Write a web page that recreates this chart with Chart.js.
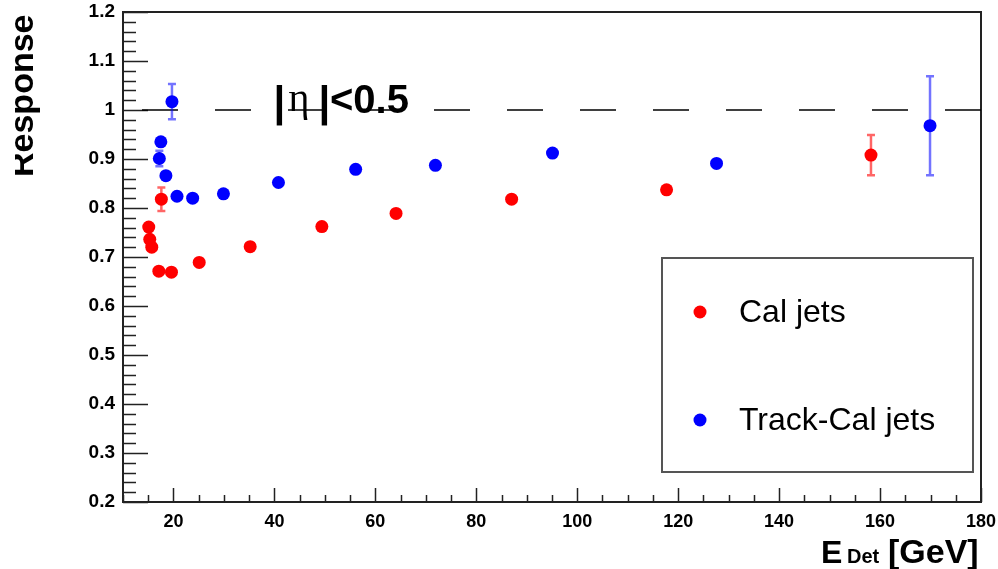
<!DOCTYPE html>
<html>
<head>
<meta charset="utf-8">
<title>Response vs E_Det</title>
<script src="https://cdn.jsdelivr.net/npm/chart.js@4.4.1/dist/chart.umd.min.js"></script>
<style>
  html, body { margin: 0; padding: 0; background: #fff; }
  #c { display: block; }
</style>
</head>
<body>
<canvas id="c" width="998" height="569"></canvas>
<script>
// --- Data: jet response vs detector energy, |eta| < 0.5 ---
const calE   = [15.1, 15.3, 15.7, 17.1, 17.6, 19.6, 25.1, 35.2, 49.4, 64.1, 87.0, 117.7, 158.2];
const calR   = [0.761, 0.736, 0.720, 0.671, 0.818, 0.669, 0.689, 0.721, 0.762, 0.789, 0.818, 0.837, 0.908];
const calErr = [0, 0, 0, 0, 0.024, 0, 0, 0, 0, 0, 0, 0, 0.041];

const trkE   = [17.2, 17.5, 18.5, 19.7, 20.7, 23.8, 29.9, 40.8, 56.1, 71.9, 95.1, 127.6, 169.9];
const trkR   = [0.901, 0.935, 0.866, 1.017, 0.824, 0.820, 0.829, 0.852, 0.879, 0.887, 0.912, 0.891, 0.968];
const trkErr = [0.016, 0, 0, 0.036, 0, 0, 0, 0, 0, 0, 0, 0, 0.101];

// unity reference line
const refE = [10, 180];
const refR = [1, 1];

const xTicks = [20, 40, 60, 80, 100, 120, 140, 160, 180];
const yTicks = [0.2, 0.3, 0.4, 0.5, 0.6, 0.7, 0.8, 0.9, 1.0, 1.1, 1.2];

const toXY = (xs, ys) => xs.map((x, i) => ({ x: x, y: ys[i] }));

Chart.defaults.font.family = "'Liberation Sans', Arial, sans-serif";
Chart.defaults.color = "#000";

// keep the frame fixed: tick labels may overhang the plot edges
function fixScale(s, key, size) {
  s[key] = size;
  s.paddingTop = s.paddingBottom = s.paddingLeft = s.paddingRight = 0;
}

// ROOT-style frame with inward ticks (major + minor)
const frameTicks = {
  id: "frameTicks",
  beforeDatasetsDraw(chart) {
    const { ctx, chartArea: a, scales: { x, y } } = chart;
    ctx.save();
    ctx.strokeStyle = "#222";
    ctx.lineWidth = 1.5;
    ctx.beginPath();
    for (let i = 0; i <= 34; i++) {
      const v = 10 + i * 5;
      const px = Math.round(x.getPixelForValue(v)) + 0.5;
      const len = v % 20 === 0 ? 14 : 7;
      ctx.moveTo(px, a.bottom);
      ctx.lineTo(px, a.bottom - len);
    }
    for (let i = 0; i <= 50; i++) {
      const py = Math.round(y.getPixelForValue(0.2 + i * 0.02)) + 0.5;
      const len = i % 5 === 0 ? 25 : 13;
      ctx.moveTo(a.left, py);
      ctx.lineTo(a.left + len, py);
    }
    ctx.stroke();
    ctx.lineWidth = 2;
    ctx.strokeRect(a.left, a.top, a.right - a.left, a.bottom - a.top);
    ctx.restore();
  },
  // vertical error bars, drawn just under each dataset's markers
  beforeDatasetDraw(chart, args) {
    const ds = chart.data.datasets[args.index];
    if (!ds.yErr) return;
    const { ctx, scales: { y } } = chart;
    ctx.save();
    ctx.strokeStyle = ds.errColor;
    ctx.lineWidth = 2.5;
    ctx.beginPath();
    args.meta.data.forEach((pt, i) => {
      const e = ds.yErr[i];
      if (!e) return;
      const v = ds.data[i].y;
      const top = y.getPixelForValue(v + e);
      const bot = y.getPixelForValue(v - e);
      ctx.moveTo(pt.x, top); ctx.lineTo(pt.x, bot);
      ctx.moveTo(pt.x - 4, top); ctx.lineTo(pt.x + 4, top);
      ctx.moveTo(pt.x - 4, bot); ctx.lineTo(pt.x + 4, bot);
    });
    ctx.stroke();
    ctx.restore();
  },
  afterDraw(chart) {
    const ctx = chart.ctx;
    ctx.save();
    ctx.fillStyle = "#000";

    // y title, clipped at the pad edge
    ctx.save();
    ctx.beginPath();
    ctx.rect(15, 0, 998, 569);
    ctx.clip();
    ctx.translate(33, 177);
    ctx.rotate(-Math.PI / 2);
    ctx.font = "bold 34px 'Liberation Sans'";
    ctx.textAlign = "left";
    ctx.textBaseline = "alphabetic";
    ctx.fillText("Response", 0, 0);
    ctx.restore();

    // x title: E_Det [GeV]
    ctx.textBaseline = "alphabetic";
    ctx.textAlign = "left";
    ctx.font = "bold 32px 'Liberation Sans'";
    ctx.fillText("E", 821, 563);
    ctx.font = "bold 20px 'Liberation Sans'";
    ctx.fillText("Det", 847, 563);
    ctx.font = "bold 34px 'Liberation Sans'";
    ctx.fillText("[GeV]", 888, 563);

    // |eta| < 0.5 label
    ctx.textAlign = "center";
    ctx.font = "bold 42px 'Liberation Sans'";
    ctx.fillText("|", 279.5, 116);
    ctx.fillText("|", 324.5, 116);
    ctx.font = "40px 'Liberation Serif'";
    ctx.fillText("\u03B7", 299, 111);
    ctx.textAlign = "left";
    ctx.font = "bold 40px 'Liberation Sans'";
    ctx.fillText("<0.5", 330, 113);

    // legend box
    ctx.strokeStyle = "#555";
    ctx.lineWidth = 2;
    ctx.strokeRect(662, 258, 311, 214);
    ctx.font = "32px 'Liberation Sans'";
    const rows = [312, 420];
    chart.data.datasets.filter(d => d.yErr).forEach((d, k) => {
      ctx.fillStyle = d.backgroundColor;
      ctx.beginPath();
      ctx.arc(700, rows[k], 6.5, 0, Math.PI * 2);
      ctx.fill();
      ctx.fillStyle = "#000";
      ctx.textBaseline = "middle";
      ctx.fillText(d.label, 739, rows[k] + 1);
    });
    ctx.restore();
  }
};

new Chart(document.getElementById("c"), {
  type: "scatter",
  data: {
    datasets: [
      {
        label: "Cal jets",
        data: toXY(calE, calR),
        yErr: calErr,
        errColor: "rgba(255,0,0,0.6)",
        backgroundColor: "#ff0000",
        pointRadius: 6.5,
        pointHoverRadius: 6.5,
        borderWidth: 0,
        order: 1
      },
      {
        label: "Track-Cal jets",
        data: toXY(trkE, trkR),
        yErr: trkErr,
        errColor: "rgba(0,0,255,0.55)",
        backgroundColor: "#0000ff",
        pointRadius: 6.5,
        pointHoverRadius: 6.5,
        borderWidth: 0,
        order: 0
      },
      {
        type: "line",
        label: "ref",
        data: toXY(refE, refR),
        showLine: true,
        borderColor: "#000",
        borderWidth: 1.3,
        borderDash: [36, 37],
        borderDashOffset: 54,
        pointRadius: 0,
        fill: false,
        order: 5
      }
    ]
  },
  options: {
    responsive: false,
    animation: false,
    devicePixelRatio: 1,
    layout: { padding: { left: 0, top: 12, right: 17, bottom: 0 } },
    plugins: { legend: { display: false }, tooltip: { enabled: false } },
    scales: {
      x: {
        type: "linear",
        min: 10,
        max: 180,
        afterFit: s => fixScale(s, "height", 67),
        afterBuildTicks: s => { s.ticks = xTicks.map(v => ({ value: v })); },
        grid: { display: false, drawTicks: false },
        border: { display: false },
        ticks: {
          autoSkip: false,
          maxRotation: 0,
          padding: 9,
          font: { size: 18, weight: "bold" },
          callback: v => String(v)
        }
      },
      y: {
        type: "linear",
        min: 0.2,
        max: 1.2,
        afterFit: s => fixScale(s, "width", 123),
        afterBuildTicks: s => { s.ticks = yTicks.map(v => ({ value: v })); },
        grid: { display: false, drawTicks: false },
        border: { display: false },
        ticks: {
          autoSkip: false,
          padding: 8,
          font: { size: 19, weight: "bold" },
          callback: v => String(Math.round(v * 10) / 10)
        }
      }
    }
  },
  plugins: [frameTicks]
});
</script>
</body>
</html>
